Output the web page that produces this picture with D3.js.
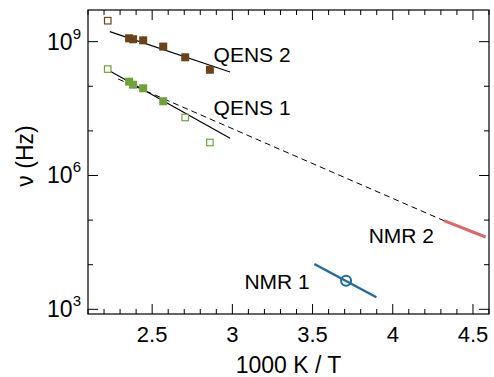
<!DOCTYPE html>
<html>
<head>
<meta charset="utf-8">
<script src="https://cdn.jsdelivr.net/npm/d3@7"></script>
<style>
body { margin: 0; background: #fff; }
text { font-family: "Liberation Sans", Arial, sans-serif; }
</style>
</head>
<body>
<div id="chart"></div>
<script>
// data (x = 1000 K / T, y = log10 of nu in Hz)
var qens2X = [2.356, 2.381, 2.444, 2.569, 2.706, 2.86];
var qens2Y = [9.076, 9.054, 9.03, 8.89, 8.65, 8.37];
var qens2OpenX = [2.223];
var qens2OpenY = [9.47];
var qens2Fit = [[2.236, 9.224], [2.986, 8.32]];

var qens1X = [2.356, 2.381, 2.444, 2.569];
var qens1Y = [8.103, 8.036, 7.955, 7.664];
var qens1OpenX = [2.223, 2.706, 2.86];
var qens1OpenY = [8.386, 7.30, 6.74];
var qens1Fit = [[2.236, 8.343], [2.986, 6.835]];

var dashFit = [[2.2875, 8.164], [4.319, 4.987]];
var nmr2Line = [[4.319, 4.987], [4.579, 4.621]];
var nmr1Line = [[3.511, 4.016], [3.898, 3.27]];
var nmr1Point = [3.709, 3.64];

var xTicks = [2.5, 3, 3.5, 4, 4.5];
var yTicks = [3, 6, 9];

var labels = [
  {t: "QENS 2", x: 2.883, y: 8.55},
  {t: "QENS 1", x: 2.883, y: 7.356},
  {t: "NMR 2", x: 3.85, y: 4.493},
  {t: "NMR 1", x: 3.075, y: 3.455}
];

var W = 494, H = 377;
var margin = {top: 10, right: 5, bottom: 63, left: 88};
var width = W - margin.left - margin.right,
    height = H - margin.top - margin.bottom;

var svg = d3.select("#chart").append("svg")
    .attr("width", W).attr("height", H);
var g = svg.append("g")
    .attr("transform", "translate(" + margin.left + "," + margin.top + ")");

var x = d3.scaleLinear().domain([2.1, 4.6]).range([0, width]);
var y = d3.scaleLinear().domain([2.895, 9.71]).range([height, 0]);

var brown = "#6b4219", green = "#6fa33a", red = "#e06666", blue = "#1f6b9f";

// ticks (inside, mirrored)
var minorX = d3.range(21, 47).map(function(d){ return d / 10; });
var minorY = d3.range(3, 10);
function isMajorX(v){ return Math.abs(v * 2 - Math.round(v * 2)) < 1e-6; }
function isMajorY(v){ return v % 3 === 0; }

var ticks = g.append("g").attr("stroke", "#000").attr("stroke-width", 1);
minorX.forEach(function(v){
  var len = isMajorX(v) ? 10 : 5;
  ticks.append("line").attr("x1", x(v)).attr("x2", x(v)).attr("y1", height).attr("y2", height - len);
  ticks.append("line").attr("x1", x(v)).attr("x2", x(v)).attr("y1", 0).attr("y2", len);
});
minorY.forEach(function(v){
  var len = isMajorY(v) ? 10 : 5;
  ticks.append("line").attr("y1", y(v)).attr("y2", y(v)).attr("x1", 0).attr("x2", len);
  ticks.append("line").attr("y1", y(v)).attr("y2", y(v)).attr("x1", width).attr("x2", width - len);
});

g.append("rect").attr("width", width).attr("height", height)
  .attr("fill", "none").attr("stroke", "#000").attr("stroke-width", 1.2);

// tick labels
g.selectAll(".xt").data(xTicks).enter().append("text")
  .attr("x", function(d){ return x(d); }).attr("y", height + 28)
  .attr("text-anchor", "middle").attr("font-size", "22px")
  .text(function(d){ return d; });

var yt = g.selectAll(".yt").data(yTicks).enter().append("text")
  .attr("x", -7).attr("y", function(d){ return y(d) + 8; })
  .attr("text-anchor", "end").attr("font-size", "23px");
yt.append("tspan").text("10");
yt.append("tspan").attr("font-size", "15px").attr("dy", -11).text(function(d){ return d; });

// axis titles
g.append("text").attr("x", width / 2).attr("y", height + 59)
  .attr("text-anchor", "middle").attr("font-size", "23px").text("1000 K / T");
g.append("text").attr("transform", "translate(-55," + (height / 2 - 6) + ") rotate(-90)")
  .attr("text-anchor", "middle").attr("font-size", "23px").text("ν (Hz)");

var line = d3.line().x(function(d){ return x(d[0]); }).y(function(d){ return y(d[1]); });

g.append("path").attr("d", line(dashFit)).attr("fill", "none")
  .attr("stroke", "#000").attr("stroke-width", 1).attr("stroke-dasharray", "6,4");
g.append("path").attr("d", line(qens2Fit)).attr("fill", "none").attr("stroke", "#000").attr("stroke-width", 1.2);
g.append("path").attr("d", line(qens1Fit)).attr("fill", "none").attr("stroke", "#000").attr("stroke-width", 1.2);
g.append("path").attr("d", line(nmr2Line)).attr("fill", "none").attr("stroke", red).attr("stroke-width", 3);
g.append("path").attr("d", line(nmr1Line)).attr("fill", "none").attr("stroke", blue).attr("stroke-width", 2.5);

function squares(xs, ys, col, filled, s){
  g.append("g").selectAll("rect").data(xs).enter().append("rect")
    .attr("x", function(d){ return x(d) - s / 2; })
    .attr("y", function(d, i){ return y(ys[i]) - s / 2; })
    .attr("width", s).attr("height", s)
    .attr("fill", filled ? col : "#fff")
    .attr("stroke", col).attr("stroke-width", filled ? 0 : 1.2);
}
squares(qens2OpenX, qens2OpenY, brown, false, 6.5);
squares(qens2X, qens2Y, brown, true, 8);
squares(qens1OpenX, qens1OpenY, green, false, 6.5);
squares(qens1X, qens1Y, green, true, 8);

g.append("circle").attr("cx", x(nmr1Point[0])).attr("cy", y(nmr1Point[1])).attr("r", 5)
  .attr("fill", "none").attr("stroke", blue).attr("stroke-width", 2);

g.selectAll(".lab").data(labels).enter().append("text")
  .attr("x", function(d){ return x(d.x); }).attr("y", function(d){ return y(d.y); })
  .attr("font-size", "21px").text(function(d){ return d.t; });
</script>
</body>
</html>
